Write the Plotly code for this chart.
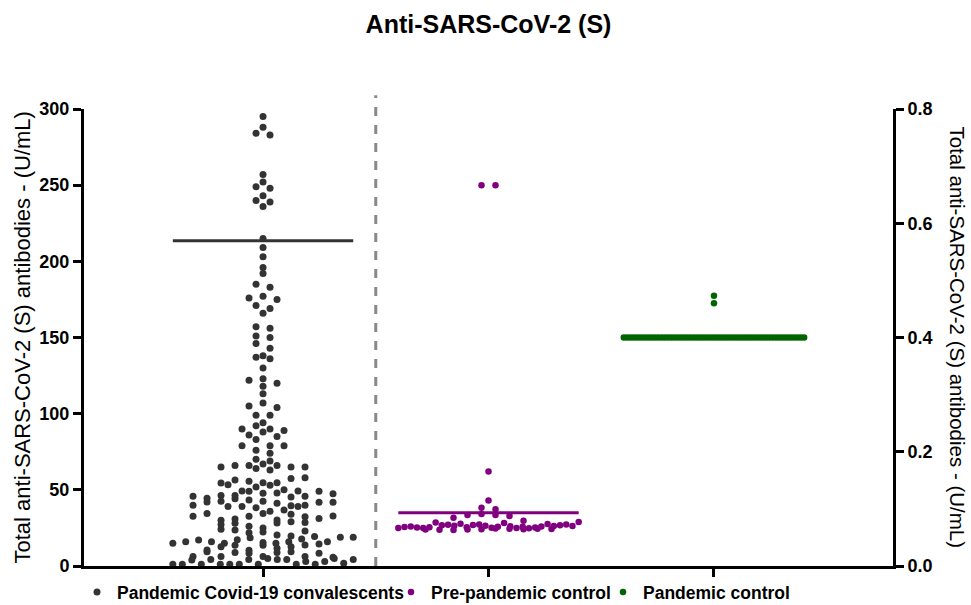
import numpy as np
import plotly.graph_objects as go

# ---------------- data ----------------
categories = ["Pandemic Covid-19 convalescents", "Pre-pandemic control", "Pandemic control"]

convalescents = [
    295, 288, 284, 283, 257, 252, 249, 248, 243, 240, 239, 236, 215, 209, 203,
    196, 192, 185, 183, 177, 176, 175, 171, 169, 166, 157, 156, 151, 150, 146,
    143, 138, 137, 136, 130, 123, 122, 120, 118, 113, 107, 105, 104,
    99, 99, 94, 92, 90, 90, 89, 88, 86, 85, 83, 79, 79, 79, 76, 74, 70, 69,
    67, 66, 66, 66, 65, 65, 64, 65, 63,
    15.4, 1.1, 47.7, 42.5, 34.4, 13.6, 18.6, 4.9, 4.2,
    54.7, 49.0, 43.4, 38.3, 32.6, 14.9, 10.3, 6.2, 4.2, 1.1,
    55.6, 48.0, 41.2, 30.2, 25.0, 17.3, 11.6, 8.4, 4.2,
    51.9, 46.2, 44.2, 39.6, 35.9, 30.9, 26.1, 22.4, 16.0, 13.6, 8.8, 1.1, 1.1,
    45.3, 42.5, 39.0, 33.9, 28.3, 21.9, 14.9, 8.8, 1.1,
    54.7, 46.2, 39.9, 30.0, 20.4, 17.8, 9.4, 2.9, 4.2,
    56.5, 53.0, 49.3, 45.8, 42.0, 36.8, 32.4, 28.0, 23.7, 19.7, 16.0, 12.7, 6.2, 1.1, 1.1,
    57.4, 50.1, 44.5, 39.0, 34.4, 29.1, 24.1, 19.3, 17.1, 6.2, 2.9,
    54.5, 49.0, 41.8, 31.1, 23.0, 16.0, 12.7, 9.4, 4.0, 4.9,
    58.0, 53.4, 49.3, 39.0, 32.6, 27.2, 16.0, 13.8, 8.4, 1.1,
    45.8, 39.9, 28.5, 18.9, 10.5, 6.2, 1.8, 5.7,
    47.5, 41.8, 32.9, 14.9, 14.5, 1.1, 18.9, 4.2,
]

pre_pandemic = [
    250, 250, 62, 43, 38.3, 37.2, 34.1, 33.5, 33.5, 32.8, 31.7, 29.7,
    26.5, 25.1, 27.3, 24.2, 25.8, 26.9, 24.6, 28.2, 25.4, 26.1, 23.9, 27.8,
    25.0, 26.4, 24.4, 25.7, 27.0, 24.8, 26.7, 23.7, 25.3, 28.6, 26.0, 24.1,
    25.5, 27.5, 24.9, 26.3, 25.2, 23.8, 26.8, 25.9, 24.5, 27.2, 25.6, 24.0,
    26.2, 25.0, 24.3, 28.9,
]

pandemic_control = [0.4] * 58 + [0.46, 0.473]   # right axis (U/mL)

center_lines = [213.5, 35.0, 0.40]   # horizontal summary line of each group

left_ticks = [0, 50, 100, 150, 200, 250, 300]
right_ticks = [0.0, 0.2, 0.4, 0.6, 0.8]

# ---------------- layout geometry ----------------
W, H = 971, 605
ML, MR, MT, MB = 84, 78, 109, 39
PW, PH = W - ML - MR, H - MT - MB
XR = [-0.794, 2.794]
PX_PER_CAT = PW / (XR[1] - XR[0])
HALF = 0.4  # half-width of a group, category units
MAXHALF = HALF * PX_PER_CAT


def rows_layout(vals, center, px_per_unit, bin_px=7.5, step=14.0):
    """Scatter-dot-plot layout: points binned in rows, spread around the centre."""
    vals = np.asarray(vals, dtype=float)
    ypx = vals * px_per_unit
    bins = np.floor(ypx / bin_px + 1e-9)
    xs = np.zeros(len(vals))
    maxw = 2 * MAXHALF
    for b in np.unique(bins):
        idx = np.where(bins == b)[0]
        n = len(idx)
        sp = step if (n - 1) * step <= maxw else maxw / max(n - 1, 1)
        o = (np.arange(n) - (n - 1) / 2) * sp
        order = sorted(range(n), key=lambda i: (abs(o[i]), o[i]))
        xs[idx] = center + o[order] / PX_PER_CAT
    return xs


yl = PH / 300.0
yr = PH / 0.8

x1 = rows_layout(convalescents, 0, yl)
x2 = rows_layout(pre_pandemic, 1, yl)
x3 = rows_layout(pandemic_control, 2, yr)

FONT = "Liberation Sans, Arial, sans-serif"
fig = go.Figure()

line_cols = ["#333333", "#800080", "#006400"]
for i, (v, c) in enumerate(zip(center_lines, line_cols)):
    fig.add_trace(go.Scatter(
        x=[i - HALF, i + HALF], y=[v, v], mode="lines",
        line=dict(color=c, width=3), showlegend=False, hoverinfo="skip",
        yaxis="y2" if i == 2 else "y"))

fig.add_trace(go.Scatter(x=x1, y=convalescents, mode="markers", name=categories[0],
                         marker=dict(color="#333333", size=7), cliponaxis=False,
                         legend="legend"))
fig.add_trace(go.Scatter(x=x2, y=pre_pandemic, mode="markers", name=categories[1],
                         marker=dict(color="#800080", size=6.5), cliponaxis=False,
                         legend="legend2"))
fig.add_trace(go.Scatter(x=x3, y=pandemic_control, mode="markers", name=categories[2],
                         marker=dict(color="#006400", size=6.5), cliponaxis=False,
                         yaxis="y2", legend="legend3"))

fig.add_shape(type="line", xref="x", yref="paper", x0=0.5, x1=0.5, y0=0, y1=1.03,
              line=dict(color="#888888", width=3, dash="dash"))

axis_common = dict(showline=True, linecolor="black", linewidth=3, ticks="outside",
                   ticklen=8, tickwidth=3, tickcolor="black", showgrid=False,
                   zeroline=False,
                   tickfont=dict(family=FONT, size=18, color="black"))

leg_font = dict(family=FONT, size=17.5, color="black", weight="bold")
leg_y = (566 - 592) / PH


def leg(xpx):
    return dict(orientation="h", x=(xpx - ML) / PW, y=leg_y, xanchor="left",
                yanchor="middle", font=leg_font, bgcolor="rgba(0,0,0,0)")


fig.update_layout(
    width=W, height=H,
    margin=dict(l=ML, r=MR, t=MT, b=MB, autoexpand=False),
    plot_bgcolor="white", paper_bgcolor="white",
    title=dict(text="<b>Anti-SARS-CoV-2 (S)</b>", x=0.5, xref="paper", y=0.96,
               yanchor="middle",
               font=dict(family=FONT, size=25, color="black")),
    xaxis=dict(range=XR, tickvals=[0, 1, 2], ticktext=["", "", ""], **axis_common),
    yaxis=dict(range=[0, 300], tickvals=left_ticks,
               ticktext=[f"<b>{t}</b>" for t in left_ticks], **axis_common),
    yaxis2=dict(range=[0, 0.8], tickvals=right_ticks,
                ticktext=[f"<b>{t:.1f}</b>" for t in right_ticks],
                overlaying="y", side="right", anchor="x", **axis_common),
    legend=leg(77), legend2=leg(391), legend3=leg(603),
    showlegend=True,
    annotations=[
        dict(text="Total anti-SARS-CoV-2 (S) antibodies - (U/mL)", xref="paper",
             yref="paper", x=(22 - ML) / PW, y=0.5, textangle=-90, showarrow=False,
             xanchor="center", yanchor="middle",
             font=dict(family=FONT, size=22, color="black")),
        dict(text="Total anti-SARS-CoV-2 (S) antibodies - (U/mL)", xref="paper",
             yref="paper", x=(957 - ML) / PW, y=0.5, textangle=90, showarrow=False,
             xanchor="center", yanchor="middle",
             font=dict(family=FONT, size=20.5, color="black")),
    ],
)

fig.write_html("out.html")
